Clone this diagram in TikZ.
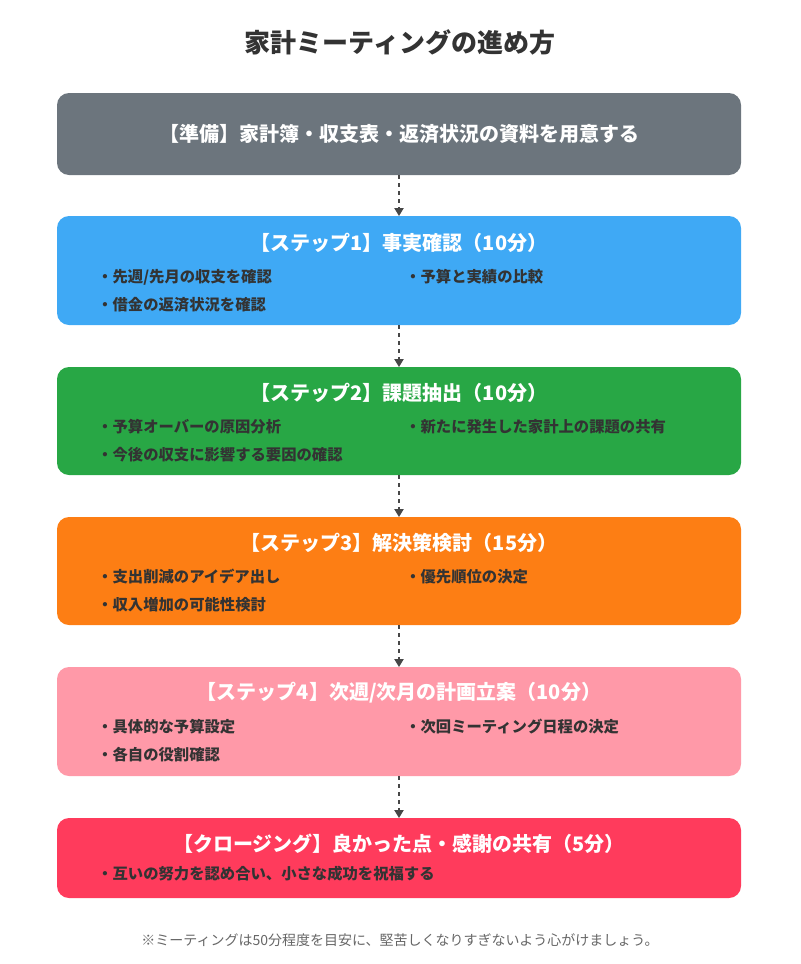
\documentclass[tikz,border=0pt]{standalone}
\usepackage{fontspec}
\setmainfont{Noto Sans CJK JP}
\usetikzlibrary{positioning,arrows.meta}
\definecolor{prepgray}{HTML}{6C757D}
\definecolor{stepblue}{HTML}{3FA9F5}
\definecolor{stepgreen}{HTML}{28A745}
\definecolor{steporange}{HTML}{FD7E14}
\definecolor{steppink}{HTML}{FF99A8}
\definecolor{closered}{HTML}{FF3B5C}
\definecolor{textdark}{HTML}{333333}
\tikzset{
  stagebox/.style={fill=#1, rounded corners=9pt, draw=none},
  stagetitle/.style={text=white, font=\bfseries\fontsize{15}{18}\selectfont, inner sep=0pt},
  item/.style={anchor=west, text=textdark, font=\bfseries\fontsize{11.5}{14}\selectfont, inner sep=0pt},
  flow/.style={dashed, draw=textdark!90, line width=0.9pt, -{Triangle[length=6pt,width=7pt]}}
}
\begin{document}
\begin{tikzpicture}[x=0.75pt,y=-0.75pt]
\useasboundingbox (0,0) rectangle (800,964);

% Title
\node[font=\bfseries\fontsize{19.5}{23}\selectfont, text=textdark] (title) at (400,42) {家計ミーティングの進め方};

% Stage boxes
\fill[stagebox=prepgray] (57,93) rectangle (741,175);
\node[stagetitle] (prep) at (399,134) {【準備】家計簿・収支表・返済状況の資料を用意する};
\coordinate (prepbot) at (399,175);

\fill[stagebox=stepblue] (57,216) rectangle (741,325);
\node[stagetitle] (s1) at (399,243) {【ステップ1】事実確認（10分）};
\coordinate (s1top) at (399,216);
\coordinate (s1bot) at (399,325);
\node[item] (s1a) at (97,277) {・先週/先月の収支を確認};
\node[item] (s1b) at (405,277) {・予算と実績の比較};
\node[item] (s1c) at (97,305) {・借金の返済状況を確認};

\fill[stagebox=stepgreen] (57,367) rectangle (741,475);
\node[stagetitle] (s2) at (399,393) {【ステップ2】課題抽出（10分）};
\coordinate (s2top) at (399,367);
\coordinate (s2bot) at (399,475);
\node[item] (s2a) at (97,427) {・予算オーバーの原因分析};
\node[item] (s2b) at (405,427) {・新たに発生した家計上の課題の共有};
\node[item] (s2c) at (97,455) {・今後の収支に影響する要因の確認};

\fill[stagebox=steporange] (57,517) rectangle (741,625);
\node[stagetitle] (s3) at (399,543) {【ステップ3】解決策検討（15分）};
\coordinate (s3top) at (399,517);
\coordinate (s3bot) at (399,625);
\node[item] (s3a) at (97,577) {・支出削減のアイデア出し};
\node[item] (s3b) at (405,577) {・優先順位の決定};
\node[item] (s3c) at (97,605) {・収入増加の可能性検討};

\fill[stagebox=steppink] (57,667) rectangle (741,776);
\node[stagetitle] (s4) at (399,693) {【ステップ4】次週/次月の計画立案（10分）};
\coordinate (s4top) at (399,667);
\coordinate (s4bot) at (399,776);
\node[item] (s4a) at (97,727) {・具体的な予算設定};
\node[item] (s4b) at (405,727) {・次回ミーティング日程の決定};
\node[item] (s4c) at (97,755) {・各自の役割確認};

\fill[stagebox=closered] (57,818) rectangle (741,898);
\node[stagetitle] (close) at (399,844) {【クロージング】良かった点・感謝の共有（5分）};
\coordinate (closetop) at (399,818);
\node[item] (closea) at (97,874) {・互いの努力を認め合い、小さな成功を祝福する};

% Connectors
\draw[flow] (prepbot) -- (s1top);
\draw[flow] (s1bot) -- (s2top);
\draw[flow] (s2bot) -- (s3top);
\draw[flow] (s3bot) -- (s4top);
\draw[flow] (s4bot) -- (closetop);

% Footnote
\node[text=black!60, font=\fontsize{10.5}{13}\selectfont] (note) at (400,940) {※ミーティングは50分程度を目安に、堅苦しくなりすぎないよう心がけましょう。};
\end{tikzpicture}
\end{document}
